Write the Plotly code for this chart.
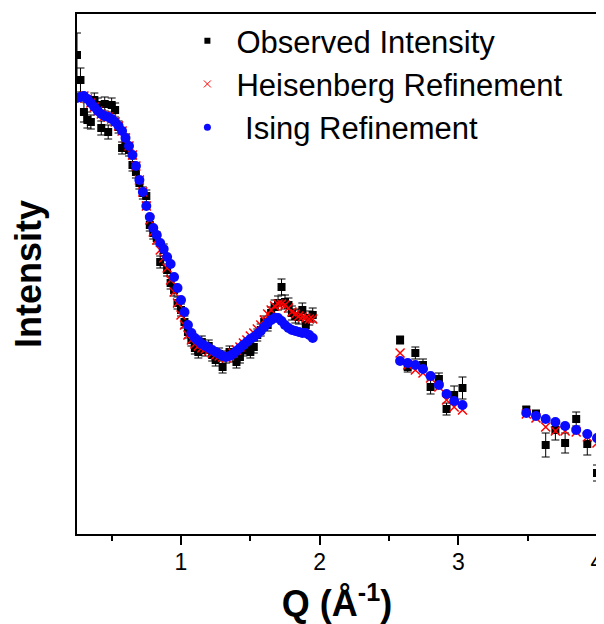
import plotly.graph_objects as go

# ---- Data (intensity in arbitrary units) ----
q1 = [0.25, 0.275, 0.3, 0.325, 0.35, 0.375, 0.4, 0.425, 0.45, 0.475,
      0.5, 0.525, 0.55, 0.575, 0.6, 0.625, 0.65, 0.675, 0.7, 0.725,
      0.75, 0.775, 0.8, 0.825, 0.85, 0.875, 0.9, 0.925, 0.95, 0.975,
      1.0, 1.025, 1.05, 1.075, 1.1, 1.125, 1.15, 1.175, 1.2, 1.225,
      1.25, 1.275, 1.3, 1.325, 1.35, 1.375, 1.4, 1.425, 1.45, 1.475,
      1.5, 1.525, 1.55, 1.575, 1.6, 1.625, 1.65, 1.675, 1.7, 1.725,
      1.75, 1.775, 1.8, 1.825, 1.85, 1.875, 1.9, 1.925, 1.95]
q2 = [2.58, 2.635, 2.69, 2.745, 2.80, 2.86, 2.915, 2.97, 3.03]
q3 = [3.49, 3.56, 3.63, 3.70, 3.77, 3.85, 3.93, 4.00]

obs1 = [479, 454, 422, 414, 412, 434, 429, 406, 430, 402,
        429, 424, 407, 386, 394, 384, 369, 362, 351, 341,
        338, 309, 301, 296, 272, 284, 264, 251, 244, 231,
        224, 212, 202, 194, 186, 182, 192, 184, 188, 179,
        174, 180, 167, 177, 182, 178, 172, 177, 184, 186,
        182, 187, 199, 204, 212, 209, 221, 227, 231, 247,
        232, 229, 221, 218, 217, 224, 209, 216, 219]
err1 = [22, 12, 10, 8, 7, 7, 7, 7, 7, 7,
        7, 7, 6, 6, 6, 6, 6, 6, 6, 6,
        6, 6, 6, 6, 6, 6, 6, 6, 6, 6,
        6, 6, 6, 6, 6, 6, 6, 6, 6, 6,
        6, 6, 6, 6, 6, 6, 6, 6, 6, 6,
        6, 6, 6, 6, 6, 6, 6, 7, 7, 8,
        7, 7, 7, 7, 7, 7, 7, 7, 7]
obs2 = [194, 167, 181, 169, 147, 155, 125, 139, 146]
err2 = [4, 5, 6, 6, 7, 6, 6, 9, 11]
obs3 = [124, 120, 89, 104, 91, 115, 90, 61]
err3 = [4, 4, 12, 10, 10, 7, 11, 8]

heis1 = [436, 437, 438, 435, 431, 427, 423, 420, 418, 417,
         415, 412, 408, 403, 396, 388, 379, 368, 354, 342,
         328, 314, 302, 294, 284, 276, 266, 254, 242, 231,
         219, 209, 199, 194, 190, 188, 186, 185, 183, 181,
         179, 178, 177, 176, 178, 181, 184, 187, 191, 194,
         198, 201, 205, 209, 214, 220, 224, 228, 230, 230,
         229, 226, 222, 220, 218, 217, 216, 215, 215]
heis2 = [181, 169, 164, 161, 156, 147, 134, 127, 124]
heis3 = [120, 116, 107, 103, 103, 102, 97, 91]

ising1 = [436, 437, 438, 435, 431, 427, 423, 420, 418, 417,
          415, 412, 408, 403, 396, 388, 379, 368, 354, 342,
          328, 317, 306, 299, 291, 285, 277, 270, 257, 246,
          234, 222, 209, 201, 196, 193, 190, 188, 186, 184,
          182, 180, 178, 177, 178, 180, 183, 186, 189, 192,
          195, 197, 200, 203, 207, 211, 214, 216, 216, 213,
          209, 206, 204, 203, 202, 201, 201, 199, 196]
ising2 = [173, 171, 169, 165, 158, 149, 140, 133, 129]
ising3 = [121, 118, 115, 112, 108, 104, 100, 96]

q_all = q1 + q2 + q3
obs_all = obs1 + obs2 + obs3
err_all = err1 + err2 + err3
heis_all = heis1 + heis2 + heis3
ising_all = ising1 + ising2 + ising3

names = ["Observed Intensity", "Heisenberg Refinement", " Ising Refinement"]
x_ticks = [1, 2, 3, 4]
x_minor = [0.5, 1.5, 2.5, 3.5]

FONT = "Liberation Sans, Arial, sans-serif"
BLUE = "#0a0aff"

fig = go.Figure()

fig.add_trace(go.Scatter(
    x=q_all, y=obs_all, mode="markers", showlegend=False,
    marker=dict(symbol="square", size=8, color="black"),
    error_y=dict(type="data", array=err_all, color="black", thickness=1, width=4),
))
fig.add_trace(go.Scatter(
    x=q_all, y=heis_all, mode="markers", showlegend=False,
    marker=dict(symbol="x-thin-open", size=9, color="red",
                line=dict(color="red", width=1.5)),
))
fig.add_trace(go.Scatter(
    x=q_all, y=ising_all, mode="markers", showlegend=False,
    marker=dict(symbol="circle", size=10, color=BLUE),
))

# legend entries (small symbols, as in the reference)
fig.add_trace(go.Scatter(x=[None], y=[None], mode="markers", name=names[0],
                         marker=dict(symbol="square", size=6, color="black")))
fig.add_trace(go.Scatter(x=[None], y=[None], mode="markers", name=names[1],
                         marker=dict(symbol="x-thin-open", size=7, color="red",
                                     line=dict(color="red", width=1))))
fig.add_trace(go.Scatter(x=[None], y=[None], mode="markers", name=names[2],
                         marker=dict(symbol="circle", size=7, color=BLUE)))

# the page body adds an 8px margin, so the figure is 8px smaller than the window
fig.update_layout(
    width=596, height=616,
    margin=dict(l=69, r=7, t=6, b=90, autoexpand=False),
    paper_bgcolor="white", plot_bgcolor="white",
    font=dict(family=FONT, color="black"),
    legend=dict(x=0.195, y=1.0, xanchor="left", yanchor="top",
                bgcolor="rgba(0,0,0,0)", font=dict(size=31, family=FONT),
                itemwidth=48, tracegroupgap=0),
)
fig.update_xaxes(
    range=[0.25, 4.0], tickvals=x_ticks, ticktext=[str(v) for v in x_ticks],
    ticks="outside", ticklen=9, tickwidth=1.5, tickcolor="black",
    tickfont=dict(size=23, family=FONT, color="black"), ticklabelstandoff=-3,
    minor=dict(tickvals=x_minor, ticks="outside", ticklen=5, tickwidth=1.5, tickcolor="black"),
    showline=True, linecolor="black", linewidth=2, mirror=True,
    showgrid=False, zeroline=False, automargin=False,
    title=dict(text="<b>Q (Å<sup>-1</sup>)</b>", font=dict(size=36, family=FONT), standoff=17),
)
fig.update_yaxes(
    range=[0, 520], showticklabels=False, ticks="",
    showline=True, linecolor="black", linewidth=2, mirror=True,
    showgrid=False, zeroline=False, automargin=False,
    title=dict(text="<b>Intensity</b>", font=dict(size=36, family=FONT), standoff=25),
)

fig.write_html("out.html")
